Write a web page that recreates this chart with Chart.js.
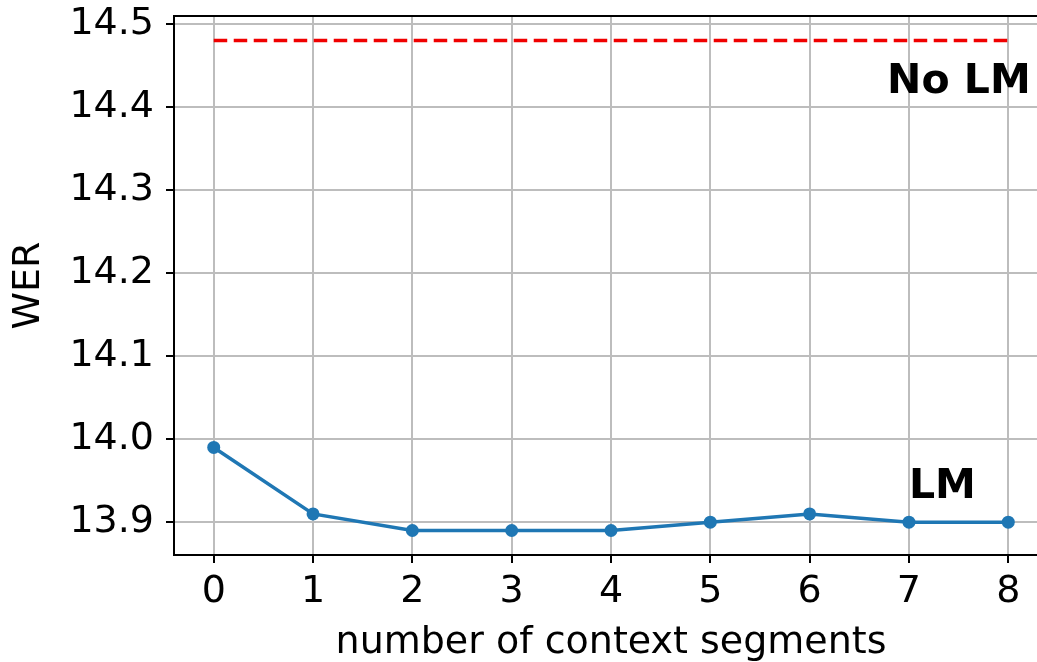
<!DOCTYPE html>
<html>
<head>
<meta charset="utf-8">
<script src="https://cdn.jsdelivr.net/npm/chart.js@4/dist/chart.umd.min.js"></script>
<style>
  html, body { margin: 0; padding: 0; background: #fff; overflow: hidden; }
  #wrap { width: 1037px; height: 662px; overflow: hidden; position: relative; }
  #werChart { position: absolute; left: 0; top: 0; }
</style>
</head>
<body>
<div id="wrap"><canvas id="werChart" width="1060" height="662"></canvas></div>
<script>
// aantal context segmenten en WER per stap
const segments = [0, 1, 2, 3, 4, 5, 6, 7, 8];
const werLM = [13.99, 13.91, 13.89, 13.89, 13.89, 13.90, 13.91, 13.90, 13.90];
const werNoLM = 14.48;
const xTicks = [0, 1, 2, 3, 4, 5, 6, 7, 8];
const yTicks = [13.9, 14.0, 14.1, 14.2, 14.3, 14.4, 14.5];
const labels = [
    { text: 'No LM', x: 6.78, y: 14.417 },
    { text: 'LM', x: 7.0, y: 13.929 }
];

const FONT = "'DejaVu Sans', sans-serif";

// tick labels mogen buiten het plotvlak hangen, geen extra ruimte reserveren
function noOverhang(s) {
    s.paddingTop = 0;
    s.paddingBottom = 0;
    s.paddingLeft = 0;
    s.paddingRight = 0;
}

// tekst labels + bovenste rand (matplotlib spine)
const extraPlugin = {
    id: 'extra',
    afterDraw(chart) {
        const { ctx, chartArea, scales } = chart;
        ctx.save();
        ctx.strokeStyle = '#000';
        ctx.lineWidth = 2;
        ctx.beginPath();
        ctx.moveTo(chartArea.left - 1, chartArea.top);
        ctx.lineTo(chartArea.right, chartArea.top);
        ctx.stroke();

        ctx.fillStyle = '#000';
        ctx.font = "bold 41px " + FONT;
        ctx.textAlign = 'left';
        ctx.textBaseline = 'alphabetic';
        labels.forEach(l => {
            ctx.fillText(l.text, scales.x.getPixelForValue(l.x), scales.y.getPixelForValue(l.y));
        });
        ctx.restore();
    }
};

new Chart(document.getElementById('werChart').getContext('2d'), {
    type: 'line',
    data: {
        datasets: [
            {
                label: 'LM',
                data: segments.map((s, i) => ({ x: s, y: werLM[i] })),
                borderColor: '#1f77b4',
                backgroundColor: '#1f77b4',
                borderWidth: 3.5,
                pointRadius: 6.5,
                pointBorderWidth: 0,
                tension: 0
            },
            {
                label: 'No LM',
                data: [
                    { x: segments[0], y: werNoLM },
                    { x: segments[segments.length - 1], y: werNoLM }
                ],
                borderColor: '#f00000',
                borderWidth: 3.5,
                borderDash: [13.5, 6.5],
                pointRadius: 0
            }
        ]
    },
    options: {
        responsive: false,
        animation: false,
        layout: { padding: { top: 16, right: 12, left: 0, bottom: 0 } },
        plugins: { legend: { display: false }, tooltip: { enabled: false } },
        scales: {
            x: {
                type: 'linear',
                min: -0.4,
                max: 8.4,
                afterBuildTicks: s => { s.ticks = xTicks.map(v => ({ value: v })); },
                afterFit: s => { s.height = 107; noOverhang(s); },
                ticks: { font: { family: FONT, size: 38 }, color: '#000', padding: 6, maxRotation: 0 },
                grid: { color: '#bdbdbd', lineWidth: 2, tickColor: '#000', tickLength: 8, tickWidth: 2 },
                border: { color: '#000', width: 2 },
                title: { display: true, text: 'number of context segments', font: { family: FONT, size: 38 }, color: '#000', padding: { top: 0, bottom: -4 } }
            },
            y: {
                min: 13.8605,
                max: 14.5095,
                afterBuildTicks: s => { s.ticks = yTicks.map(v => ({ value: v })); },
                afterFit: s => { s.width = 174; noOverhang(s); },
                ticks: { font: { family: FONT, size: 38 }, color: '#000', padding: 12, callback: v => v.toFixed(1) },
                grid: { color: '#bdbdbd', lineWidth: 2, tickColor: '#000', tickLength: 8, tickWidth: 2 },
                border: { color: '#000', width: 2 },
                title: { display: true, text: 'WER', font: { family: FONT, size: 38 }, color: '#000', padding: { top: 6, bottom: 0 } }
            }
        }
    },
    plugins: [extraPlugin]
});
</script>
</body>
</html>
